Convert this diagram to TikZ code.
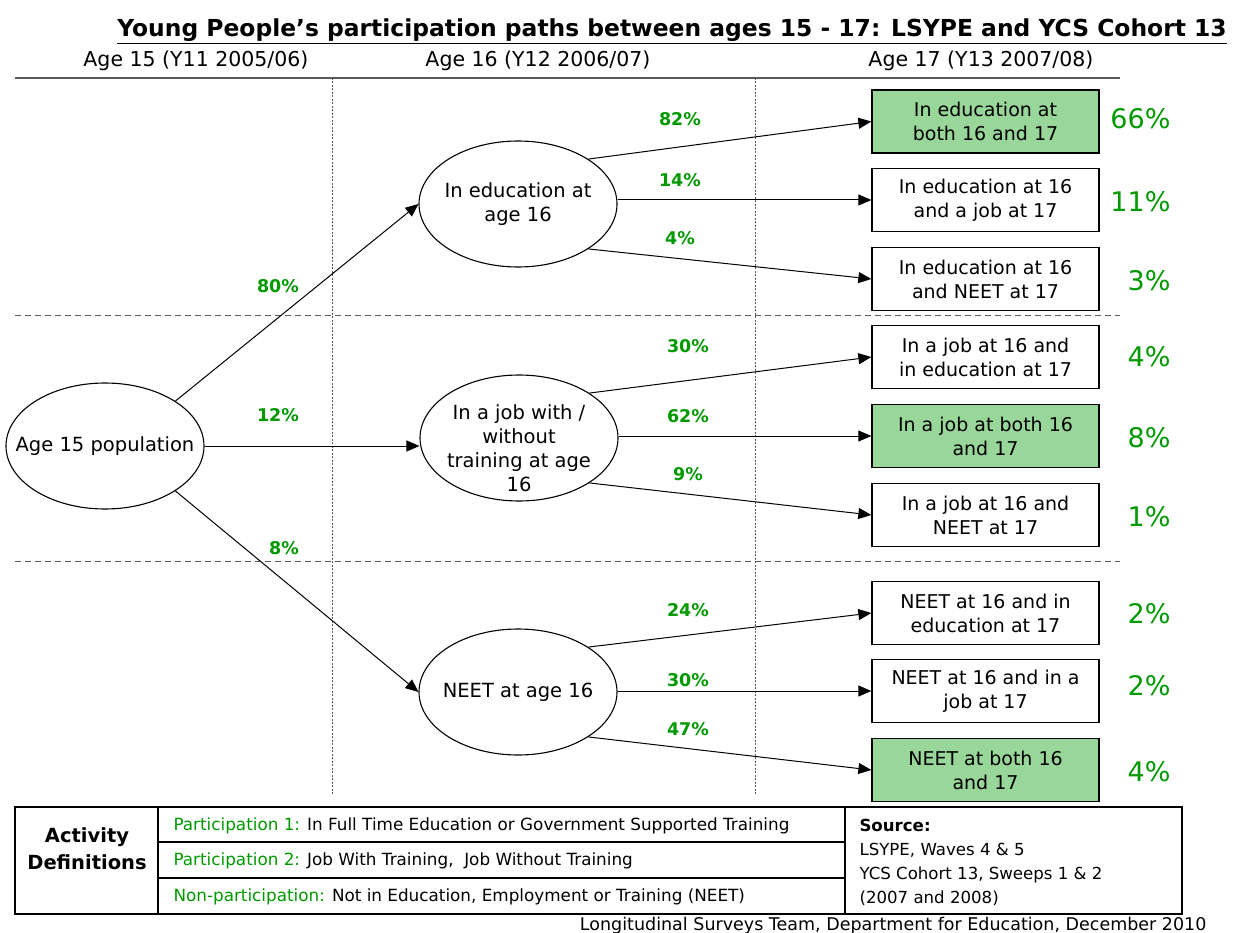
\documentclass[tikz,border=0pt]{standalone}
\usepackage{fontspec}
\setmainfont{DejaVu Sans}
\usetikzlibrary{shapes,arrows.meta,positioning}
\definecolor{pctgreen}{RGB}{0,153,0}
\definecolor{boxgreen}{RGB}{153,214,153}
\definecolor{rulegray}{RGB}{90,90,90}

\tikzset{
  stage/.style={ellipse,draw,line width=1.1pt,minimum width=198pt,minimum height=126pt,inner xsep=-40pt,inner ysep=-12pt,align=center,font=\fontsize{19.5}{24}\selectfont},
  outcome/.style={rectangle,draw,line width=1.3pt,minimum width=227pt,minimum height=63pt,inner sep=0pt,align=center,font=\fontsize{19}{24}\selectfont},
  hit/.style={outcome,fill=boxgreen},
  share/.style={anchor=east,text=pctgreen,font=\fontsize{27}{30}\selectfont},
  rate/.style={text=pctgreen,font=\bfseries\fontsize{17.5}{20}\selectfont},
  colhead/.style={font=\fontsize{20.5}{24}\selectfont},
  flow/.style={line width=1pt,-{Triangle[length=13pt,width=11pt]}},
  defrow/.style={anchor=west,font=\fontsize{16.8}{20}\selectfont},
}

\begin{document}
\begin{tikzpicture}[x=1pt,y=-1pt]
\useasboundingbox (0,0) rectangle (1233,933);

\node[font=\bfseries\fontsize{23.4}{26}\selectfont] (title) at (672,31) {\underline{Young People’s participation paths between ages 15 - 17: LSYPE and YCS Cohort 13}};
\node[colhead] (head15) at (196,61) {Age 15 (Y11 2005/06)};
\node[colhead] (head16) at (538,61) {Age 16 (Y12 2006/07)};
\node[colhead] (head17) at (981,61) {Age 17 (Y13 2007/08)};

\draw[rulegray,line width=1.6pt] (15,78) -- (1120,78);
\draw[rulegray,dash pattern=on 2pt off 1.5pt,line width=0.8pt] (332,78) -- (332,795);
\draw[rulegray,dash pattern=on 2pt off 1.5pt,line width=0.8pt] (755,78) -- (755,795);
\draw[rulegray,dash pattern=on 6pt off 4pt,line width=1pt] (15,315) -- (1120,315);
\draw[rulegray,dash pattern=on 6pt off 4pt,line width=1pt] (15,561) -- (1120,561);

\node[stage] (pop) at (105,446) {Age 15 population};
\node[stage] (edu) at (518,204) {In education at\\age 16};
\node[stage] (job) at (519,438) {\raisebox{-18pt}[0pt][0pt]{\begin{tabular}{@{}c@{}}In a job with /\\without\\training at age\\16\end{tabular}}};
\node[stage] (neet) at (518,692) {NEET at age 16};

\node[hit] (eduedu) at (985.5,121.5) {In education at\\both 16 and 17};
\node[outcome] (edujob) at (985.5,200) {In education at 16\\and a job at 17};
\node[outcome] (eduneet) at (985.5,279) {In education at 16\\and NEET at 17};
\node[outcome] (jobedu) at (985.5,357) {In a job at 16 and\\in education at 17};
\node[hit] (jobjob) at (985.5,436) {In a job at both 16\\and 17};
\node[outcome] (jobneet) at (985.5,515) {In a job at 16 and\\NEET at 17};
\node[outcome] (neetedu) at (985.5,613) {NEET at 16 and in\\education at 17};
\node[outcome] (neetjob) at (985.5,691) {NEET at 16 and in a\\job at 17};
\node[hit] (neetneet) at (985.5,770) {NEET at both 16\\and 17};

\draw[flow] (pop.north east) -- (edu.west);
\draw[flow] (pop.east) -- (pop.east -| job.west);
\draw[flow] (pop.south east) -- (neet.west);
\draw[flow] (edu.north east) -- (eduedu.west);
\draw[flow] (edu.east |- edujob.west) -- (edujob.west);
\draw[flow] (edu.south east) -- (eduneet.west);
\draw[flow] (job.north east) -- (jobedu.west);
\draw[flow] (job.east |- jobjob.west) -- (jobjob.west);
\draw[flow] (job.south east) -- (jobneet.west);
\draw[flow] (neet.north east) -- (neetedu.west);
\draw[flow] (neet.east |- neetjob.west) -- (neetjob.west);
\draw[flow] (neet.south east) -- (neetneet.west);

\node[rate] (r80) at (278,286) {80\%};
\node[rate] (r12) at (278,415) {12\%};
\node[rate] (r8) at (284,548) {8\%};
\node[rate] (r82) at (680,119) {82\%};
\node[rate] (r14) at (680,180) {14\%};
\node[rate] (r4) at (680,238) {4\%};
\node[rate] (r30a) at (688,346) {30\%};
\node[rate] (r62) at (688,416) {62\%};
\node[rate] (r9) at (688,474) {9\%};
\node[rate] (r24) at (688,610) {24\%};
\node[rate] (r30b) at (688,680) {30\%};
\node[rate] (r47) at (688,729) {47\%};

\node[share] (s1) at (1174,119) {66\%};
\node[share] (s2) at (1174,202) {11\%};
\node[share] (s3) at (1174,281) {3\%};
\node[share] (s4) at (1174,357) {4\%};
\node[share] (s5) at (1174,438) {8\%};
\node[share] (s6) at (1174,517) {1\%};
\node[share] (s7) at (1174,614) {2\%};
\node[share] (s8) at (1174,686) {2\%};
\node[share] (s9) at (1174,772) {4\%};

% definitions table
\draw[line width=2.2pt] (15,807) rectangle (1182,914);
\draw[line width=1.1pt] (158,807) -- (158,914);
\draw[line width=1.1pt] (845,807) -- (845,914);
\draw[line width=1.1pt] (158,842) -- (845,842);
\draw[line width=1.1pt] (158,878) -- (845,878);
\node[font=\bfseries\fontsize{19.5}{27}\selectfont,align=center] (act) at (87,849) {Activity\\Definitions};
\node[defrow] (def1) at (170,826) {\textcolor{pctgreen}{Participation 1:} In Full Time Education or Government Supported Training};
\node[defrow] (def2) at (170,861) {\textcolor{pctgreen}{Participation 2:} Job With Training,\ \ Job Without Training};
\node[defrow] (def3) at (170,897) {\textcolor{pctgreen}{Non-participation:} Not in Education, Employment or Training (NEET)};
\node[defrow,align=left,font=\fontsize{16.6}{24}\selectfont] (src) at (856,862) {\textbf{Source:}\\LSYPE, Waves 4 \& 5\\YCS Cohort 13, Sweeps 1 \& 2\\(2007 and 2008)};
\node[anchor=east,font=\fontsize{17.5}{20}\selectfont] (foot) at (1210,926) {Longitudinal Surveys Team, Department for Education, December 2010};
\end{tikzpicture}
\end{document}
